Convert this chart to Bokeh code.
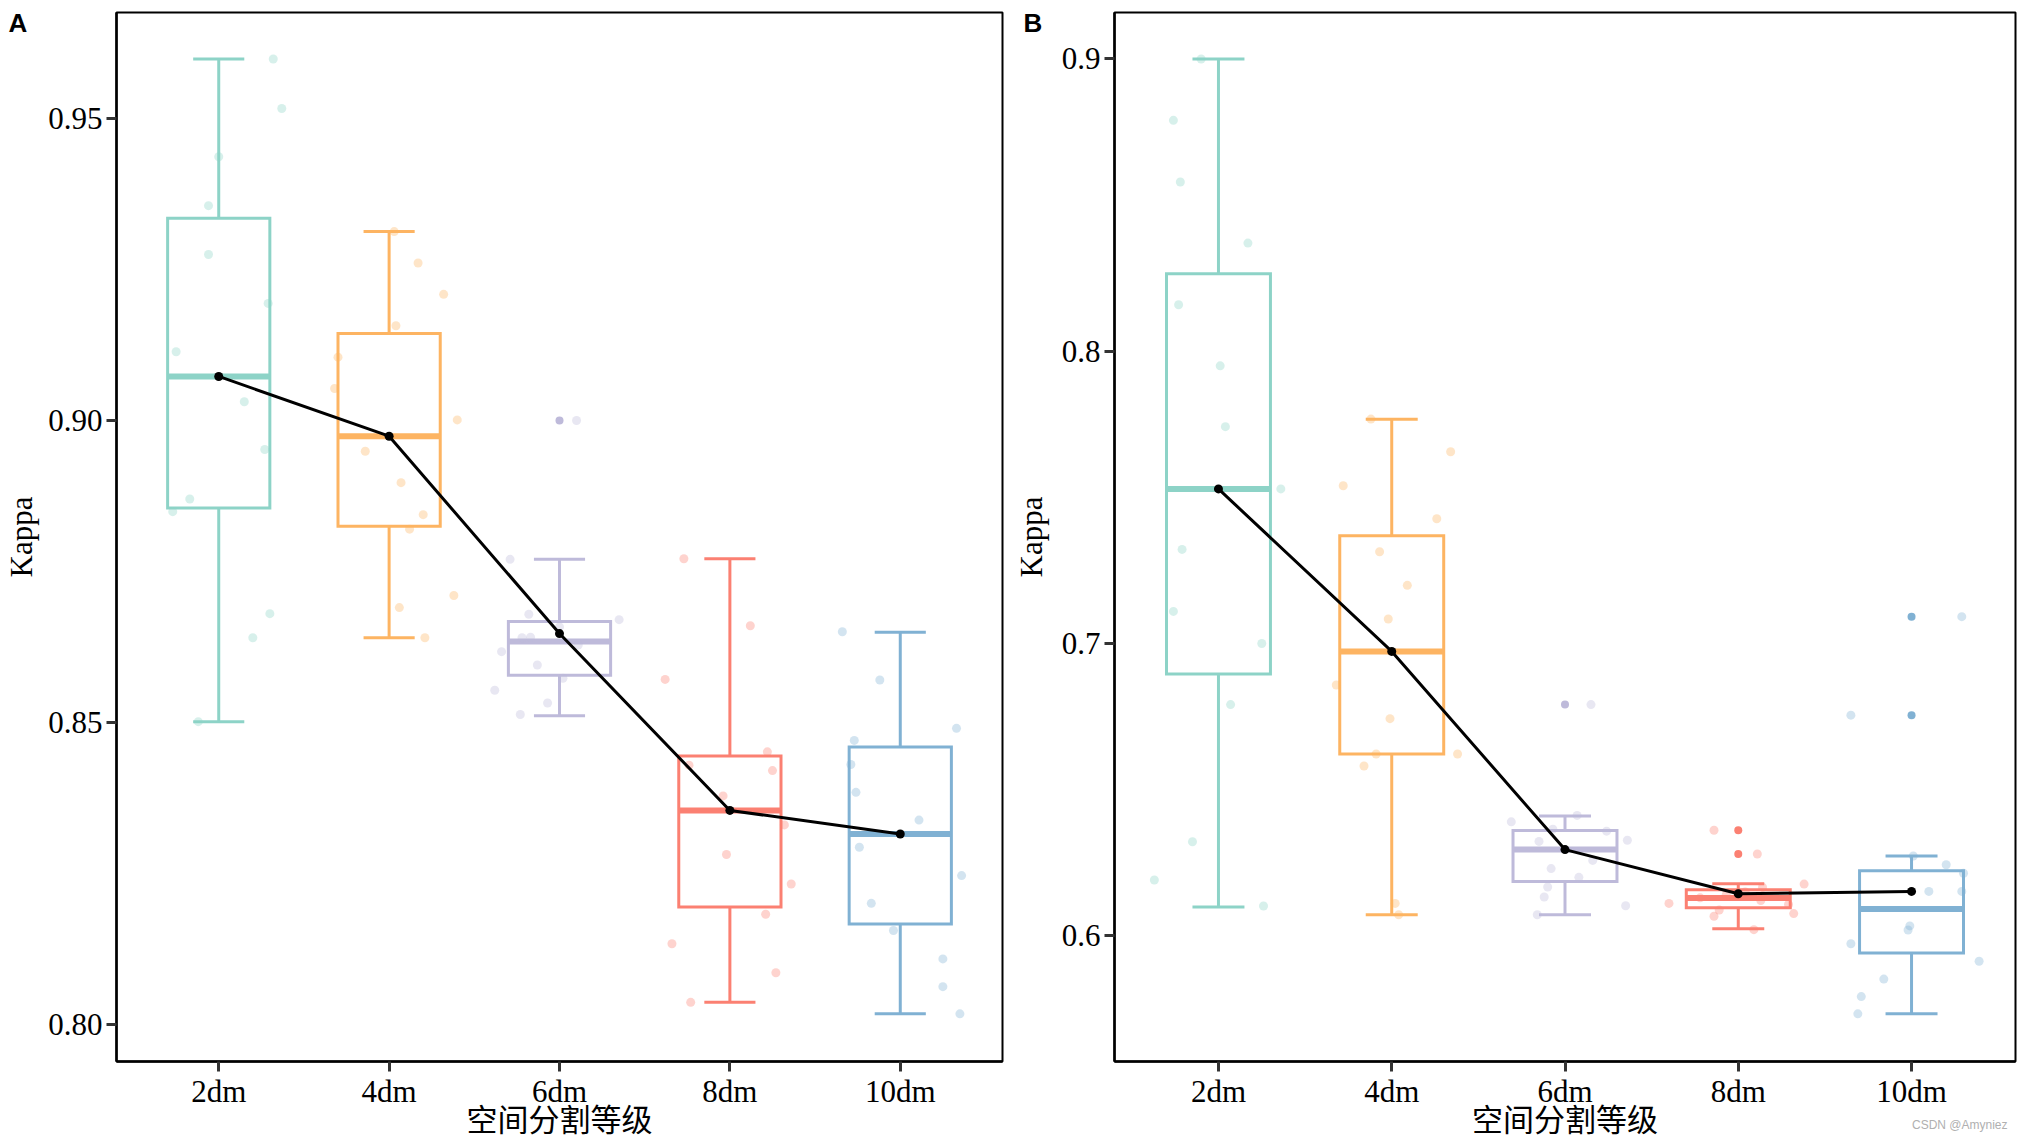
from bokeh.plotting import figure
from bokeh.models import Range1d, FixedTicker, PrintfTickFormatter, ColumnDataSource, Title
from bokeh.layouts import row
from bokeh.transform import dodge
from bokeh.embed import file_html
from bokeh.resources import INLINE

categories = ["2dm", "4dm", "6dm", "8dm", "10dm"]
colors = ["#8DD3C7", "#FDB462", "#BEBADA", "#FB8072", "#80B1D3"]
x_title = "空间分割等级"
y_title = "Kappa"
watermark = "CSDN @Amyniez"

# ---------------- Panel A ----------------
a_points = [
    [0.9599, 0.9517, 0.9437, 0.9356, 0.9275, 0.9194, 0.9114, 0.9031, 0.8952, 0.8870, 0.8849, 0.8680, 0.8640, 0.8501],
    [0.9313, 0.9261, 0.9209, 0.9157, 0.9105, 0.9053, 0.9001, 0.8949, 0.8897, 0.8844, 0.8820, 0.8710, 0.8690, 0.8640],
    [0.9000, 0.8770, 0.8679, 0.8670, 0.8658, 0.8641, 0.8640, 0.8628, 0.8617, 0.8595, 0.8573, 0.8553, 0.8532, 0.8513],
    [0.8771, 0.8660, 0.8571, 0.8451, 0.8429, 0.8420, 0.8378, 0.8330, 0.8281, 0.8232, 0.8182, 0.8133, 0.8085, 0.8036],
    [0.8650, 0.8570, 0.8490, 0.8470, 0.8430, 0.8384, 0.8338, 0.8293, 0.8246, 0.8200, 0.8155, 0.8108, 0.8062, 0.8017],
]
a_jitter = [
    [0.32, 0.37, 0.00, -0.06, -0.06, 0.29, -0.25, 0.15, 0.27, -0.17, -0.27, 0.30, 0.20, -0.12],
    [0.03, 0.17, 0.32, 0.04, -0.30, -0.32, 0.40, -0.14, 0.07, 0.20, 0.12, 0.38, 0.06, 0.21],
    [0.10, -0.29, -0.18, 0.35, 0.00, -0.17, -0.22, 0.11, -0.34, -0.13, 0.02, -0.38, -0.07, -0.23],
    [-0.27, 0.12, -0.38, 0.22, -0.24, 0.25, -0.04, 0.32, -0.02, 0.36, 0.21, -0.34, 0.27, -0.23],
    [-0.34, -0.12, 0.33, -0.27, -0.29, -0.26, 0.11, -0.24, 0.36, -0.17, -0.04, 0.25, 0.25, 0.35],
]
a_lower = [0.8501, 0.8640, 0.8511, 0.8036, 0.8017]
a_q1 = [0.8855, 0.8825, 0.8578, 0.8194, 0.8166]
a_median = [0.9073, 0.8974, 0.8634, 0.8354, 0.8315]
a_q3 = [0.9335, 0.9144, 0.8667, 0.8444, 0.8459]
a_upper = [0.9599, 0.9313, 0.8770, 0.8771, 0.8649]
a_outliers = [[], [], [0.9000], [], []]
a_line = [0.9073, 0.8974, 0.8647, 0.8354, 0.8315]
a_ticks = [0.80, 0.85, 0.90, 0.95]

# ---------------- Panel B ----------------
b_points = [
    [0.9000, 0.8790, 0.8579, 0.8370, 0.8159, 0.7950, 0.7742, 0.7529, 0.7322, 0.7110, 0.7000, 0.6791, 0.6322, 0.6191, 0.6102],
    [0.7768, 0.7656, 0.7540, 0.7427, 0.7314, 0.7199, 0.7084, 0.6858, 0.6743, 0.6622, 0.6622, 0.6581, 0.6111, 0.6072],
    [0.6791, 0.6412, 0.6390, 0.6365, 0.6358, 0.6327, 0.6323, 0.6258, 0.6230, 0.6200, 0.6167, 0.6133, 0.6103, 0.6072],
    [0.6361, 0.6280, 0.6177, 0.6166, 0.6150, 0.6140, 0.6130, 0.6121, 0.6111, 0.6107, 0.6088, 0.6076, 0.6067, 0.6021],
    [0.7092, 0.6755, 0.6273, 0.6243, 0.6214, 0.6152, 0.6152, 0.6034, 0.6020, 0.5973, 0.5913, 0.5852, 0.5792, 0.5733],
]
b_jitter = [
    [-0.10, -0.26, -0.22, 0.17, -0.23, 0.01, 0.04, 0.36, -0.21, -0.26, 0.25, 0.07, -0.15, -0.37, 0.26],
    [-0.12, 0.34, -0.28, 0.26, -0.07, 0.09, -0.02, -0.32, -0.01, -0.09, 0.38, -0.16, 0.02, 0.04],
    [0.15, 0.07, -0.31, -0.07, 0.24, 0.36, -0.15, 0.16, -0.08, 0.08, -0.10, -0.12, 0.35, -0.16],
    [-0.14, 0.11, 0.38, 0.14, 0.04, -0.07, -0.22, 0.13, -0.40, 0.29, -0.11, 0.32, -0.14, 0.09],
    [0.29, -0.35, 0.01, 0.20, 0.30, 0.10, 0.29, -0.01, -0.02, -0.35, 0.39, -0.16, -0.29, -0.31],
]
b_lower = [0.6099, 0.6072, 0.6072, 0.6024, 0.5733]
b_q1 = [0.6896, 0.6622, 0.6186, 0.6096, 0.5941]
b_median = [0.7529, 0.6973, 0.6295, 0.6129, 0.6092]
b_q3 = [0.8265, 0.7369, 0.6360, 0.6158, 0.6223]
b_upper = [0.9000, 0.7767, 0.6410, 0.6178, 0.6273]
b_outliers = [[], [], [0.6791], [0.6361, 0.6280], [0.7092, 0.6755]]
b_line = [0.7529, 0.6973, 0.6295, 0.6144, 0.6152]
b_ticks = [0.6, 0.7, 0.8, 0.9]

SERIF = "Liberation Serif"
SANS = "Liberation Sans"
CJK = "Noto Sans CJK SC"


def make_panel(tag, pts, jit, lo, q1, med, q3, hi, outl, line_vals,
               yr, ticks, fmt, width, mbl, mbr, tag_offset, ylab_standoff):
    p = figure(width=width, height=1140,
               x_range=Range1d(-0.6, len(categories) - 0.4),
               y_range=Range1d(*yr),
               output_backend="svg", toolbar_location=None,
               min_border_left=mbl, min_border_right=mbr,
               min_border_top=11, min_border_bottom=79)
    p.grid.visible = False
    p.background_fill_color = "white"
    p.border_fill_color = "white"
    p.outline_line_color = "black"
    p.outline_line_width = 2
    p.outline_line_alpha = 1.0

    idx = list(range(len(categories)))
    box = ColumnDataSource(dict(x=idx, lo=lo, q1=q1, med=med, q3=q3, hi=hi, color=colors))

    # whiskers
    p.segment(x0="x", y0="q3", x1="x", y1="hi", line_color="color", line_width=3, source=box)
    p.segment(x0="x", y0="lo", x1="x", y1="q1", line_color="color", line_width=3, source=box)
    # caps
    p.segment(x0=dodge("x", -0.15), y0="hi", x1=dodge("x", 0.15), y1="hi",
              line_color="color", line_width=3, source=box)
    p.segment(x0=dodge("x", -0.15), y0="lo", x1=dodge("x", 0.15), y1="lo",
              line_color="color", line_width=3, source=box)
    # boxes
    p.vbar(x="x", width=0.6, bottom="q1", top="q3", fill_color="white",
           line_color="color", line_width=3, line_join="miter", source=box)
    # medians
    p.segment(x0=dodge("x", -0.3), y0="med", x1=dodge("x", 0.3), y1="med",
              line_color="color", line_width=6, line_cap="butt", source=box)

    # jittered raw points
    xs, ys, cs = [], [], []
    for i, (vals, js) in enumerate(zip(pts, jit)):
        for v, j in zip(vals, js):
            xs.append(i + j)
            ys.append(v)
            cs.append(colors[i])
    p.scatter(x=xs, y=ys, size=9, fill_color=cs, fill_alpha=0.35, line_color=None)

    # boxplot outliers
    ox, oy, oc = [], [], []
    for i, vals in enumerate(outl):
        for v in vals:
            ox.append(i)
            oy.append(v)
            oc.append(colors[i])
    if ox:
        p.scatter(x=ox, y=oy, size=8, fill_color=oc, fill_alpha=1.0, line_color=None)

    # connecting line
    p.line(x=idx, y=line_vals, line_color="black", line_width=3)
    p.scatter(x=idx, y=line_vals, size=9, fill_color="black", line_color=None)

    # axes
    for ax in (p.xaxis[0], p.yaxis[0]):
        ax.axis_line_color = "black"
        ax.axis_line_width = 2.5
        ax.major_tick_line_color = "#333333"
        ax.major_tick_line_width = 3
        ax.major_tick_out = 10
        ax.major_tick_in = 0
        ax.minor_tick_line_color = None
        ax.major_label_text_font = SERIF
        ax.major_label_text_font_size = "31px"
        ax.major_label_text_color = "black"

    p.xaxis.ticker = FixedTicker(ticks=idx)
    p.xaxis.major_label_overrides = {i: c for i, c in enumerate(categories)}
    p.xaxis.major_label_standoff = 2

    p.yaxis.ticker = FixedTicker(ticks=ticks)
    p.yaxis.formatter = PrintfTickFormatter(format=fmt)
    p.yaxis.major_label_standoff = 4
    p.yaxis.axis_label = y_title
    p.yaxis.axis_label_text_font = SERIF
    p.yaxis.axis_label_text_font_size = "31px"
    p.yaxis.axis_label_text_font_style = "normal"
    p.yaxis.axis_label_text_color = "black"
    p.yaxis.axis_label_standoff = ylab_standoff

    # panel tag (A / B) in the top border
    p.title = Title(text="\n" + tag, align="left", offset=tag_offset,
                    vertical_align="bottom", standoff=-50,
                    text_font=SANS, text_font_style="bold",
                    text_font_size="26px", text_color="black")

    # x axis title, placed in the bottom border
    p.add_layout(Title(text=x_title, align="center", vertical_align="bottom",
                       standoff=-37, text_font=CJK, text_font_style="normal",
                       text_font_size="31px", text_color="black"), "below")
    return p


pA = make_panel("A", a_points, a_jitter, a_lower, a_q1, a_median, a_q3, a_upper,
                a_outliers, a_line, (0.7938, 0.9676), a_ticks, "%.2f",
                1010, 116, 8, -108, 6)
pB = make_panel("B", b_points, b_jitter, b_lower, b_q1, b_median, b_q3, b_upper,
                b_outliers, b_line, (0.557, 0.9159), b_ticks, "%.1f",
                1012, 104, 7, -91, 10)
pB.add_layout(Title(text=watermark, align="right", offset=8, vertical_align="top",
                    standoff=-8, text_font=SANS, text_font_style="normal",
                    text_font_size="12px", text_color="#b0b0b0"), "below")

layout = row(pA, pB)
open("out.html", "w").write(file_html(layout, INLINE))
